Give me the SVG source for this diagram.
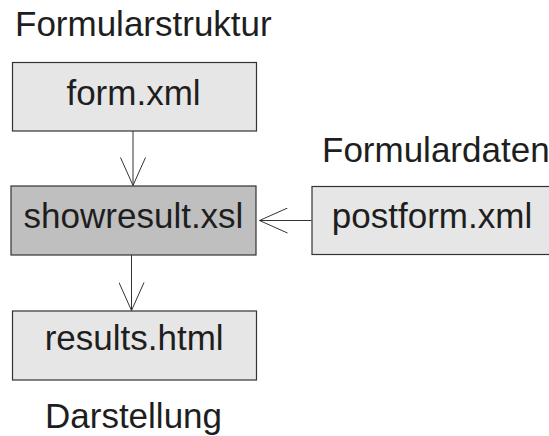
<svg xmlns="http://www.w3.org/2000/svg" width="549" height="436" viewBox="0 0 549 436">
  <defs>
    <style>
      .box { stroke: #333333; stroke-width: 1.2; }
      .light { fill: #e6e6e6; }
      .dark { fill: #bfbfbf; }
      .label { font-family: "Liberation Sans", Arial, sans-serif; font-size: 35px; fill: #1e1e1e; }
      .mid { text-anchor: middle; }
      .conn { stroke: #333333; stroke-width: 1; fill: none; }
    </style>
    <marker id="openArrow" viewBox="0 0 30 26" refX="29" refY="13" markerWidth="30" markerHeight="26" markerUnits="userSpaceOnUse" orient="auto">
      <path d="M1,0.5 L29,13 L1,25.5" fill="none" stroke="#333333" stroke-width="1"/>
    </marker>
  </defs>

  <rect width="549" height="436" fill="#ffffff"/>

  <!-- group captions -->
  <text class="label" x="15" y="36">Formularstruktur</text>
  <text class="label" x="322" y="162">Formulardaten</text>
  <text class="label" x="45" y="428">Darstellung</text>

  <!-- nodes -->
  <g id="form-xml">
    <rect class="box light" x="12.5" y="62.5" width="244" height="68.5"/>
    <text class="label mid" x="133.5" y="105">form.xml</text>
  </g>
  <g id="showresult-xsl">
    <rect class="box dark" x="11" y="186" width="245" height="69"/>
    <text class="label mid" x="133.5" y="227.5">showresult.xsl</text>
  </g>
  <g id="postform-xml">
    <rect class="box light" x="312" y="186.5" width="245" height="68"/>
    <text class="label mid" x="432" y="227.5">postform.xml</text>
  </g>
  <g id="results-html">
    <rect class="box light" x="12.5" y="311" width="244" height="69"/>
    <text class="label mid" x="134.2" y="349.5">results.html</text>
  </g>

  <!-- connectors -->
  <g id="connectors">
    <line class="conn" x1="133" y1="131" x2="133" y2="185.5" marker-end="url(#openArrow)"/>
    <line class="conn" x1="311.5" y1="220.5" x2="259.5" y2="220.5" marker-end="url(#openArrow)"/>
    <line class="conn" x1="131.5" y1="255" x2="131.5" y2="310.5" marker-end="url(#openArrow)"/>
  </g>
</svg>
